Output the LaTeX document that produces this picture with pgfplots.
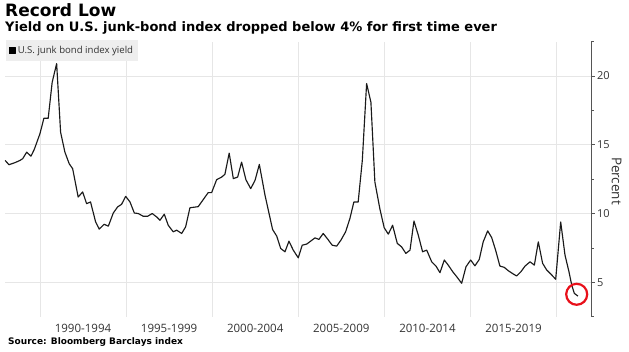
\documentclass[border=0pt]{standalone}
\usepackage{fontspec}
\setmainfont{Open Sans}
\newfontfamily\djv{DejaVu Sans}
\usepackage{pgfplots}
\pgfplotsset{compat=1.18}
\definecolor{gridc}{HTML}{E6E6E6}
\definecolor{txt}{HTML}{333333}
\definecolor{axc}{HTML}{555555}
\definecolor{legbg}{HTML}{EEEEEE}
\definecolor{linec}{HTML}{1A1A1A}
\definecolor{circ}{HTML}{E8101A}
\begin{document}
\begin{tikzpicture}
\useasboundingbox (0pt,0pt) rectangle (629pt,351pt);
\node[anchor=base west, inner sep=0] at (5pt,334.3pt) {\djv\bfseries\fontsize{17}{20}\selectfont Record Low};
\node[anchor=base west, inner sep=0] at (5pt,319.4pt) {\djv\bfseries\fontsize{13}{15}\selectfont Yield on U.S. junk-bond index dropped below 4\% for first time ever};
\node[anchor=base west, inner sep=0] at (8pt,7pt) {\djv\bfseries\fontsize{9}{11}\selectfont Source: Bloomberg Barclays index};
\node[rotate=-90, text=txt, inner sep=0] at (616.7pt,170pt) {\fontsize{13.5}{15}\selectfont Percent};
\begin{axis}[
  at={(5.5pt,34.3pt)}, anchor=south west, scale only axis,
  width=585.5pt, height=275.1pt,
  xmin=1988, xmax=2022, ymin=2.5, ymax=22.5,
  axis x line*=bottom, axis y line*=right,
  x axis line style={draw=none},
  y axis line style={axc, line width=0.8pt, -},
  xtick={1992.5,1997.5,2002.5,2007.5,2012.5,2017.5},
  xticklabels={1990-1994,1995-1999,2000-2004,2005-2009,2010-2014,2015-2019},
  xtick style={draw=none},
  extra x ticks={1990,1995,2000,2005,2010,2015,2020},
  extra x tick labels={},
  extra x tick style={grid=major, tick style={draw=none}},
  ytick={5,10,15,20},
  minor ytick={2.5,7.5,12.5,17.5,22.5},
  ymajorgrids,
  major grid style={gridc, line width=0.7pt},
  tick align=outside,
  major tick length=3.5pt, minor tick length=2.5pt,
  ytick style={axc, line width=0.7pt},
  /pgf/number format/assume math mode=true,
  yticklabel style={font=\fontsize{11}{12}\selectfont, text=txt, xshift=-1pt},
  xticklabel style={font=\fontsize{11.5}{12}\selectfont, text=txt},
  legend style={at={(0,1.006)}, anchor=north west, fill=legbg, draw=none,
    font=\fontsize{9.6}{11}\selectfont, text=txt, inner xsep=3pt, inner ysep=4pt},
  legend image code/.code={\fill[black] (0pt,-3pt) rectangle (6pt,3pt);},
  legend cell align=left,
  clip=false,
]
\addplot[linec, line width=1.15pt, line join=round] coordinates {
(1987.98,13.86) (1988.20,13.55) (1988.55,13.70) (1988.84,13.86) (1989.00,13.99)
(1989.23,14.46) (1989.48,14.17) (1989.67,14.66) (1990.00,15.80) (1990.23,16.93)
(1990.48,16.93) (1990.71,19.54) (1990.97,20.90) (1991.20,15.91) (1991.45,14.46)
(1991.70,13.62) (1991.90,13.26) (1992.22,11.20) (1992.48,11.57) (1992.71,10.72)
(1992.94,10.84) (1993.23,9.40) (1993.44,8.87) (1993.73,9.22) (1993.97,9.08)
(1994.26,10.04) (1994.51,10.48) (1994.74,10.67) (1994.98,11.25) (1995.23,10.84)
(1995.48,10.04) (1995.71,10.00) (1996.00,9.80) (1996.25,9.80) (1996.52,10.00)
(1996.78,9.75) (1996.97,9.51) (1997.22,9.95) (1997.45,9.15) (1997.74,8.67)
(1997.94,8.79) (1998.23,8.55) (1998.46,9.03) (1998.71,10.42) (1999.19,10.50)
(1999.48,11.01) (1999.77,11.52) (1999.97,11.52) (2000.26,12.46) (2000.55,12.65)
(2000.74,12.85) (2000.99,14.39) (2001.23,12.54) (2001.48,12.65) (2001.71,13.74)
(2001.96,12.46) (2002.24,11.81) (2002.49,12.41) (2002.74,13.57) (2003.07,11.33)
(2003.51,8.84) (2003.75,8.36) (2003.98,7.46) (2004.23,7.22) (2004.46,7.99)
(2004.71,7.34) (2005.00,6.78) (2005.23,7.70) (2005.49,7.78) (2005.74,8.01)
(2005.97,8.23) (2006.20,8.12) (2006.45,8.55) (2006.71,8.14) (2006.97,7.70)
(2007.23,7.63) (2007.48,8.07) (2007.75,8.67) (2008.00,9.64) (2008.23,10.84)
(2008.48,10.84) (2008.72,13.86) (2008.97,19.45) (2009.22,18.09) (2009.45,12.29)
(2009.74,10.34) (2009.99,8.97) (2010.23,8.50) (2010.48,9.15) (2010.75,7.83)
(2011.00,7.58) (2011.25,7.10) (2011.49,7.34) (2011.72,9.46) (2011.97,8.43)
(2012.22,7.22) (2012.46,7.34) (2012.75,6.49) (2013.00,6.18) (2013.23,5.70)
(2013.48,6.62) (2013.71,6.25) (2013.97,5.77) (2014.20,5.41) (2014.49,4.93)
(2014.74,6.13) (2015.01,6.62) (2015.26,6.20) (2015.51,6.66) (2015.74,7.94)
(2016.00,8.74) (2016.23,8.26) (2016.46,7.34) (2016.71,6.18) (2016.96,6.09)
(2017.20,5.84) (2017.43,5.65) (2017.68,5.46) (2017.93,5.77) (2018.17,6.18)
(2018.46,6.49) (2018.71,6.25) (2018.94,7.94) (2019.19,6.38) (2019.43,5.89)
(2019.67,5.60) (2019.95,5.22) (2020.24,9.39) (2020.49,6.98) (2020.72,5.77)
(2020.88,4.80) (2021.03,4.20) (2021.24,4.00)
};
\addlegendentry{U.S. junk bond index yield}
\addplot[only marks, mark=o, mark size=10.5pt, mark options={draw=circ, line width=2.2pt, fill=none}, forget plot] coordinates {(2021.17,4.13)};
\end{axis}
\end{tikzpicture}
\end{document}
